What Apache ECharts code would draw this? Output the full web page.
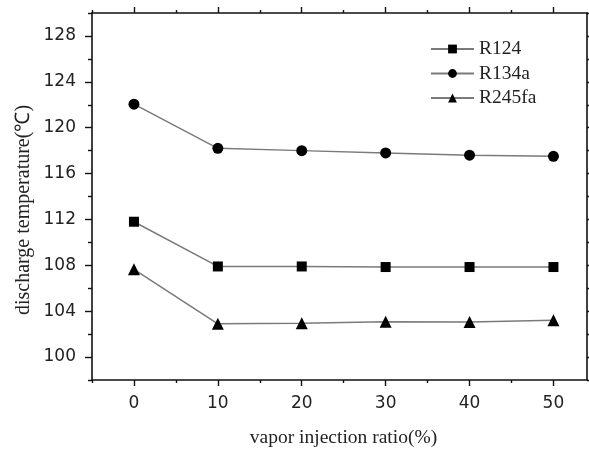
<!DOCTYPE html>
<html>
<head>
<meta charset="utf-8">
<script src="https://cdn.jsdelivr.net/npm/echarts@6/dist/echarts.min.js"></script>
<style>
html,body{margin:0;padding:0;background:#fff;}
#chart{width:589px;height:453px;}
</style>
</head>
<body>
<div id="chart"></div>
<script>
const xValues = [0, 10, 20, 30, 40, 50];
const r124 = [111.8, 107.9, 107.9, 107.85, 107.85, 107.85];
const r134a = [122.05, 118.2, 118.0, 117.8, 117.6, 117.5];
const r245fa = [107.65, 102.9, 102.95, 103.08, 103.06, 103.2];
const xMajorTicks = [0, 10, 20, 30, 40, 50];
const xMinorTicks = [-5, 5, 15, 25, 35, 45];
const yMajorTicks = [100, 104, 108, 112, 116, 120, 124, 128];
const yMinorTicks = [98, 102, 106, 110, 114, 118, 122, 126, 130];
const xTitle = 'vapor injection ratio(%)';
const yTitle = 'discharge temperature(℃)';

const axisColor = '#111';
const sans = '"DejaVu Sans", Arial, sans-serif';
const serif = '"Liberation Serif", "Times New Roman", serif';

function xAx(pos, ticks, len, showLine, showLabel, extra) {
  return Object.assign({
    type: 'value', min: -5, max: 54, position: pos,
    axisLine: { show: showLine, onZero: false, lineStyle: { color: axisColor, width: 1.6 } },
    axisTick: { show: true, inside: false, length: len, customValues: ticks, lineStyle: { color: axisColor, width: 1.4 } },
    axisLabel: showLabel ? { show: true, customValues: ticks, fontFamily: sans, fontSize: 17, color: '#222', margin: 15 } : { show: false },
    splitLine: { show: false }
  }, extra || {});
}
function yAx(pos, ticks, len, showLine, showLabel, extra) {
  return Object.assign({
    type: 'value', min: 98, max: 130, position: pos,
    axisLine: { show: showLine, onZero: false, lineStyle: { color: axisColor, width: 1.6 } },
    axisTick: { show: true, inside: false, length: len, customValues: ticks, lineStyle: { color: axisColor, width: 1.4 } },
    axisLabel: showLabel ? { show: true, customValues: ticks, fontFamily: sans, fontSize: 17, color: '#222', margin: 16 } : { show: false },
    splitLine: { show: false }
  }, extra || {});
}

const chart = echarts.init(document.getElementById('chart'));
function mk(arr) { return xValues.map((x, i) => [x, arr[i]]); }
const lineStyle = { color: '#7a7a7a', width: 1.5 };
chart.setOption({
  animation: false,
  backgroundColor: '#fff',
  grid: { left: 92, right: 2, top: 13, bottom: 71 },
  legend: {
    orient: 'vertical', left: 425, top: 34,
    itemWidth: 43, itemHeight: 11, itemGap: 4.5,
    textStyle: { fontFamily: serif, fontSize: 19.5, color: '#222', lineHeight: 20 },
    data: ['R124', 'R134a', 'R245fa']
  },
  graphic: [{
    type: 'text', x: 24, y: 210, rotation: Math.PI / 2,
    style: { text: yTitle, fontFamily: serif, fontSize: 20, fill: '#222', align: 'center', verticalAlign: 'middle' }
  }],
  xAxis: [
    xAx('bottom', xMajorTicks, 6, true, true, {
      name: xTitle, nameLocation: 'middle', nameGap: 48,
      nameTextStyle: { fontFamily: serif, fontSize: 19.5, color: '#222', padding: [0, 0, 0, 8] }
    }),
    xAx('bottom', xMinorTicks, 3, false, false),
    xAx('top', xMajorTicks, 6, true, false),
    xAx('top', xMinorTicks, 3, false, false)
  ],
  yAxis: [
    yAx('left', yMajorTicks, 7, true, true),
    yAx('left', yMinorTicks, 4, false, false),
    yAx('right', yMajorTicks, 7, true, false),
    yAx('right', yMinorTicks, 4, false, false)
  ],
  series: [
    { name: 'R124', type: 'line', data: mk(r124), symbol: 'rect', symbolSize: 10,
      lineStyle: lineStyle, itemStyle: { color: '#000' } },
    { name: 'R134a', type: 'line', data: mk(r134a), symbol: 'circle', symbolSize: 11,
      lineStyle: lineStyle, itemStyle: { color: '#000' } },
    { name: 'R245fa', type: 'line', data: mk(r245fa), symbol: 'triangle', symbolSize: 12,
      lineStyle: lineStyle, itemStyle: { color: '#000' } }
  ]
});
</script>
</body>
</html>
